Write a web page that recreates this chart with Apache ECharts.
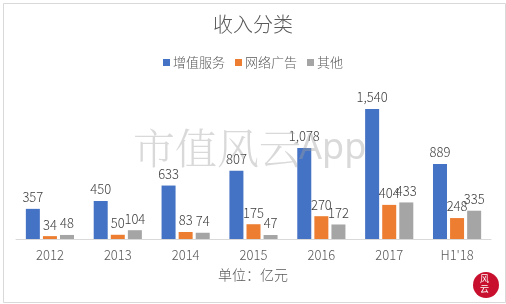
<!DOCTYPE html>
<html>
<head>
<meta charset="utf-8">
<script src="https://cdn.jsdelivr.net/npm/echarts@6/dist/echarts.min.js"></script>
<style>
  html, body { margin: 0; padding: 0; background: #fff; }
  #main { width: 506px; height: 304px; }
</style>
</head>
<body>
<div id="main"></div>
<script>
// 收入分类 data (亿元)
var years = ['2012', '2013', '2014', '2015', '2016', '2017', "H1'18"];
var vas = [357, 450, 633, 807, 1078, 1540, 889];      // 增值服务
var ads = [34, 50, 83, 175, 270, 404, 248];           // 网络广告
var other = [48, 104, 74, 47, 172, 433, 335];         // 其他

var font = '"Noto Sans CJK SC", "Noto Sans", sans-serif';

function barSeries(name, data, color) {
  return {
    name: name,
    type: 'bar',
    data: data,
    barWidth: 14,
    barGap: '22%',
    itemStyle: { color: color },
    label: {
      show: true,
      position: 'top',
      distance: 5,
      color: '#404040',
      fontSize: 13,
      fontWeight: 300,
      fontFamily: font,
      formatter: function (p) { return p.value.toLocaleString('en-US'); }
    }
  };
}

var chart = echarts.init(document.getElementById('main'));
chart.setOption({
  backgroundColor: '#fff',
  animation: false,
  title: {
    text: '收入分类',
    left: 'center',
    top: 9,
    textStyle: { color: '#595959', fontSize: 20, fontWeight: 300, fontFamily: font }
  },
  legend: {
    data: ['增值服务', '网络广告', '其他'],
    top: 51,
    left: 'center',
    itemWidth: 7,
    itemHeight: 7,
    itemGap: 10,
    icon: 'rect',
    textStyle: { color: '#595959', fontSize: 13, fontWeight: 300, fontFamily: font, padding: [0, 0, 0, -2] }
  },
  grid: { left: 16, right: 15, top: 87, bottom: 65 },
  xAxis: {
    type: 'category',
    data: years,
    axisLine: { lineStyle: { color: '#d9d9d9' } },
    axisTick: { show: false },
    axisLabel: { color: '#595959', fontSize: 13, fontWeight: 300, fontFamily: font, margin: 10 }
  },
  yAxis: {
    type: 'value',
    min: 0,
    max: 1800,
    show: false,
    splitLine: { show: false }
  },
  series: [
    barSeries('增值服务', vas, '#4472C4'),
    barSeries('网络广告', ads, '#ED7D31'),
    barSeries('其他', other, '#A5A5A5')
  ],
  graphic: [
    {
      type: 'rect', left: 1, top: 1, z: -10,
      shape: { width: 502, height: 299 },
      style: { fill: 'none', stroke: '#d9d9d9', lineWidth: 1 }
    },
    {
      type: 'text', left: 'center', top: 268,
      style: { text: '单位：亿元', fill: '#595959', font: '300 14px ' + font }
    },
    {
      type: 'text', left: 133, top: 127, z: 100,
      style: { text: '市值风云', fill: 'rgba(160,160,160,0.4)', font: '300 42px "Noto Serif CJK SC", ' + font }
    },
    {
      type: 'text', left: 299, top: 131, z: 100,
      style: { text: 'App', fill: 'rgba(160,160,160,0.4)', font: '36px "Noto Sans", sans-serif' }
    },
    {
      type: 'circle', z: 100,
      shape: { cx: 486, cy: 285, r: 13 },
      style: { fill: '#c8102e' }
    },
    {
      type: 'text', left: 480, top: 274, z: 101,
      style: { text: '风\n云', fill: '#fff', font: '9px ' + font, lineHeight: 10 }
    }
  ]
});
</script>
</body>
</html>
